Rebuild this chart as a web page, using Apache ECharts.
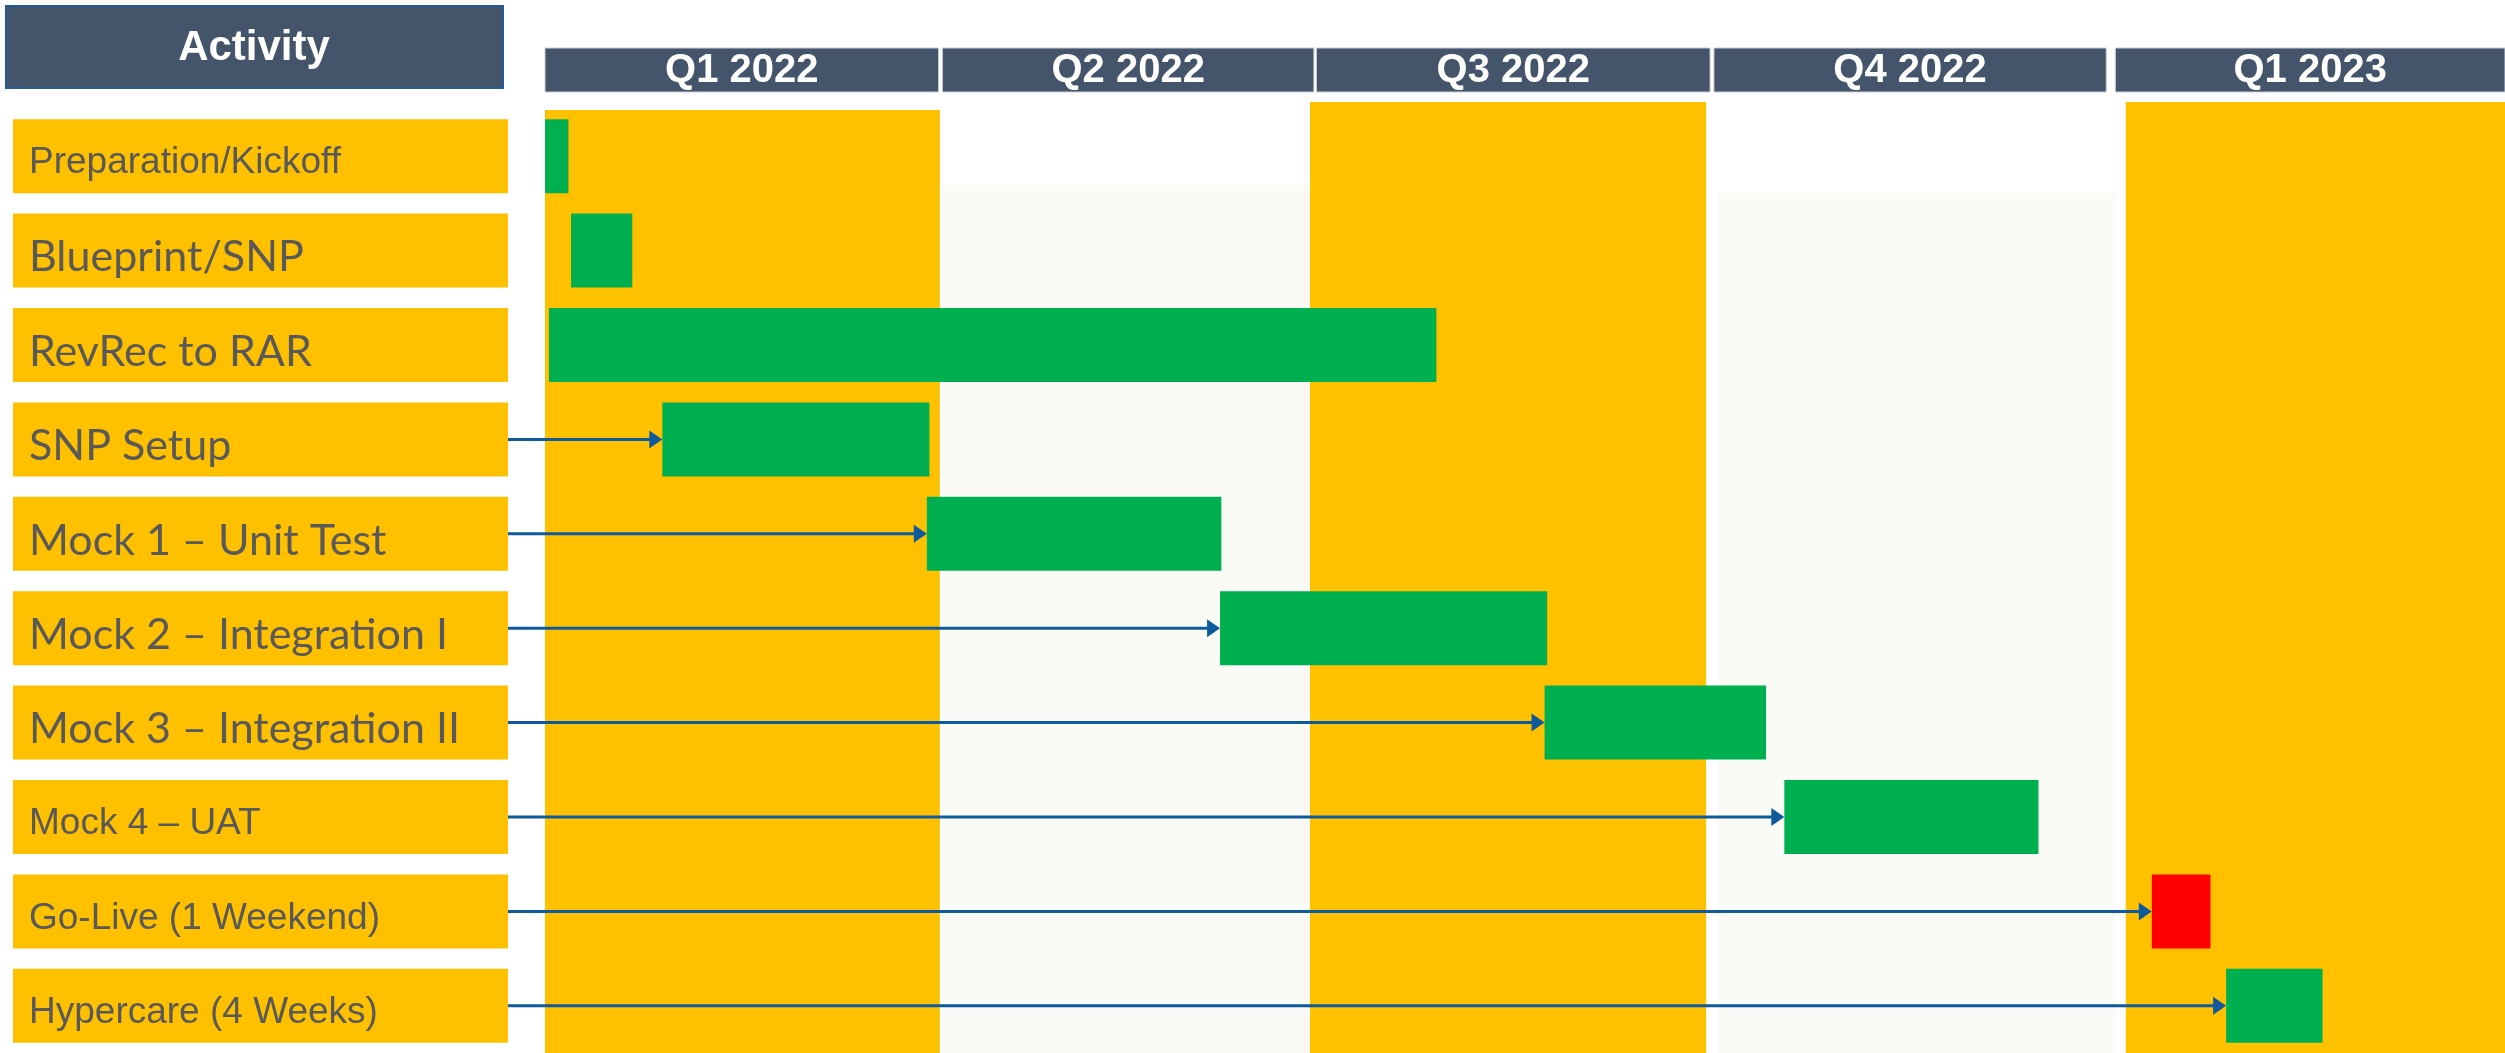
<!DOCTYPE html>
<html>
<head>
<meta charset="utf-8">
<script src="https://cdn.jsdelivr.net/npm/echarts@6/dist/echarts.min.js"></script>
<style>
  html, body { margin: 0; padding: 0; background: #fff; }
  #chart { width: 2505px; height: 1053px; }
</style>
</head>
<body>
<div id="chart"></div>
<script>
// time is counted in months from 1 Jan 2022
const activities = [
  'Preparation/Kickoff', 'Blueprint/SNP', 'RevRec to RAR', 'SNP Setup',
  'Mock 1 – Unit Test', 'Mock 2 – Integration I', 'Mock 3 – Integration II',
  'Mock 4 – UAT', 'Go-Live (1 Weekend)', 'Hypercare (4 Weeks)'
]
const taskStart = [0, 0.2, 0.03, 0.9, 2.93, 5.18, 7.67, 9.51, 12.33, 12.9]
const taskEnd = [0.18, 0.67, 6.84, 2.95, 5.19, 7.69, 9.37, 11.46, 12.78, 13.64]
const hasArrow = [0, 0, 0, 1, 1, 1, 1, 1, 1, 1]

const quarters = ['Q1 2022', 'Q2 2022', 'Q3 2022', 'Q4 2022', 'Q1 2023']
const quarterStart = [0, 3.05, 5.92, 8.97, 12.05]
const quarterEnd = [3.02, 5.9, 8.94, 11.98, 15.04]
const bandStart = [0, 3.05, 5.87, 9.0, 12.13]
const bandEnd = [3.03, 5.87, 8.91, 12.05, 15.04]

// styling
const YELLOW = '#FFC000'
const GREEN = '#00B050'
const RED = '#FF0000'
const NAVY = '#44546A'
const ARROW = '#0F5A9C'
const bandColor = [YELLOW, '#FAFAF6', YELLOW, '#FAFAF6', YELLOW]
const bandTopOffset = [1, 76, -7, 84, -7]
const redRows = [8]
const calibriRows = [1, 2, 3, 4, 5, 6]
const BAR_H = 74

let chart = echarts.init(document.getElementById('chart'))

let taskData = activities.map((a, i) => [taskStart[i], taskEnd[i], i])
let arrowData = activities.map((a, i) => [taskStart[i], i]).filter((d, i) => hasArrow[i])
let bandData = quarters.map((q, i) => [bandStart[i], bandEnd[i]])
let headerData = quarters.map((q, i) => [quarterStart[i], quarterEnd[i]])

let options = {
  animation: false,
  grid: { left: 545, right: 0, top: 109, bottom: -3 },
  xAxis: { type: 'value', min: 0, max: 15.04, show: false },
  yAxis: {
    type: 'category',
    inverse: true,
    data: activities,
    axisLine: { show: false },
    axisTick: { show: false },
    splitLine: { show: false },
    axisLabel: {
      interval: 0,
      align: 'left',
      margin: 532,
      backgroundColor: YELLOW,
      width: 479,
      height: 60,
      lineHeight: 60,
      padding: [14, 0, 0, 16],
      formatter: (v, i) => '{' + (calibriRows.includes(i) ? 'c' : 'a') + '|' + v + '}',
      rich: {
        a: { fontFamily: 'Liberation Sans', fontSize: 37, color: '#595959', lineHeight: 60, align: 'left' },
        c: { fontFamily: 'Lato', fontSize: 43, color: '#595959', lineHeight: 60, align: 'left' }
      }
    }
  },
  graphic: [
    {
      type: 'rect',
      shape: { x: 6, y: 6, width: 497, height: 82 },
      style: { fill: NAVY, stroke: '#1F5C99', lineWidth: 2 }
    },
    {
      type: 'text',
      x: 254, y: 48,
      style: {
        text: 'Activity', fill: '#fff', font: 'bold 42px "Liberation Sans"',
        align: 'center', verticalAlign: 'middle', textAlign: 'center', textVerticalAlign: 'middle'
      }
    }
  ],
  series: [
    {
      type: 'custom',
      name: 'bands',
      z: 1,
      data: bandData,
      renderItem: (params, api) => {
        let i = params.dataIndex
        let a = api.coord([api.value(0), 0])
        let b = api.coord([api.value(1), 0])
        let top = params.coordSys.y + bandTopOffset[i]
        return {
          type: 'rect',
          shape: { x: a[0], y: top, width: b[0] - a[0], height: api.getHeight() - top },
          style: { fill: bandColor[i] }
        }
      }
    },
    {
      type: 'custom',
      name: 'quarters',
      z: 2,
      data: headerData,
      renderItem: (params, api) => {
        let i = params.dataIndex
        let a = api.coord([api.value(0), 0])
        let b = api.coord([api.value(1), 0])
        let top = params.coordSys.y - 61
        return {
          type: 'group',
          children: [
            {
              type: 'rect',
              shape: { x: a[0], y: top, width: b[0] - a[0], height: 44 },
              style: { fill: NAVY, stroke: '#C9CED6', lineWidth: 1 }
            },
            {
              type: 'text',
              x: (a[0] + b[0]) / 2, y: top + 23,
              style: {
                text: quarters[i], fill: '#fff', font: 'bold 40px "Liberation Sans"',
                align: 'center', verticalAlign: 'middle', textAlign: 'center', textVerticalAlign: 'middle'
              }
            }
          ]
        }
      }
    },
    {
      type: 'custom',
      name: 'tasks',
      z: 3,
      data: taskData,
      renderItem: (params, api) => {
        let s = api.coord([api.value(0), api.value(2)])
        let e = api.coord([api.value(1), api.value(2)])
        return {
          type: 'rect',
          shape: { x: s[0], y: s[1] - BAR_H / 2, width: e[0] - s[0], height: BAR_H },
          style: { fill: redRows.includes(api.value(2)) ? RED : GREEN }
        }
      }
    },
    {
      type: 'custom',
      name: 'links',
      z: 4,
      data: arrowData,
      renderItem: (params, api) => {
        let p = api.coord([api.value(0), api.value(1)])
        let x0 = params.coordSys.x - 37
        let y = p[1]
        return {
          type: 'group',
          children: [
            {
              type: 'line',
              shape: { x1: x0, y1: y, x2: p[0] - 8, y2: y },
              style: { stroke: ARROW, lineWidth: 3 }
            },
            {
              type: 'polygon',
              shape: { points: [[p[0], y], [p[0] - 13, y - 9], [p[0] - 13, y + 9]] },
              style: { fill: ARROW }
            }
          ]
        }
      }
    }
  ]
}
chart.setOption(options)
</script>
</body>
</html>
